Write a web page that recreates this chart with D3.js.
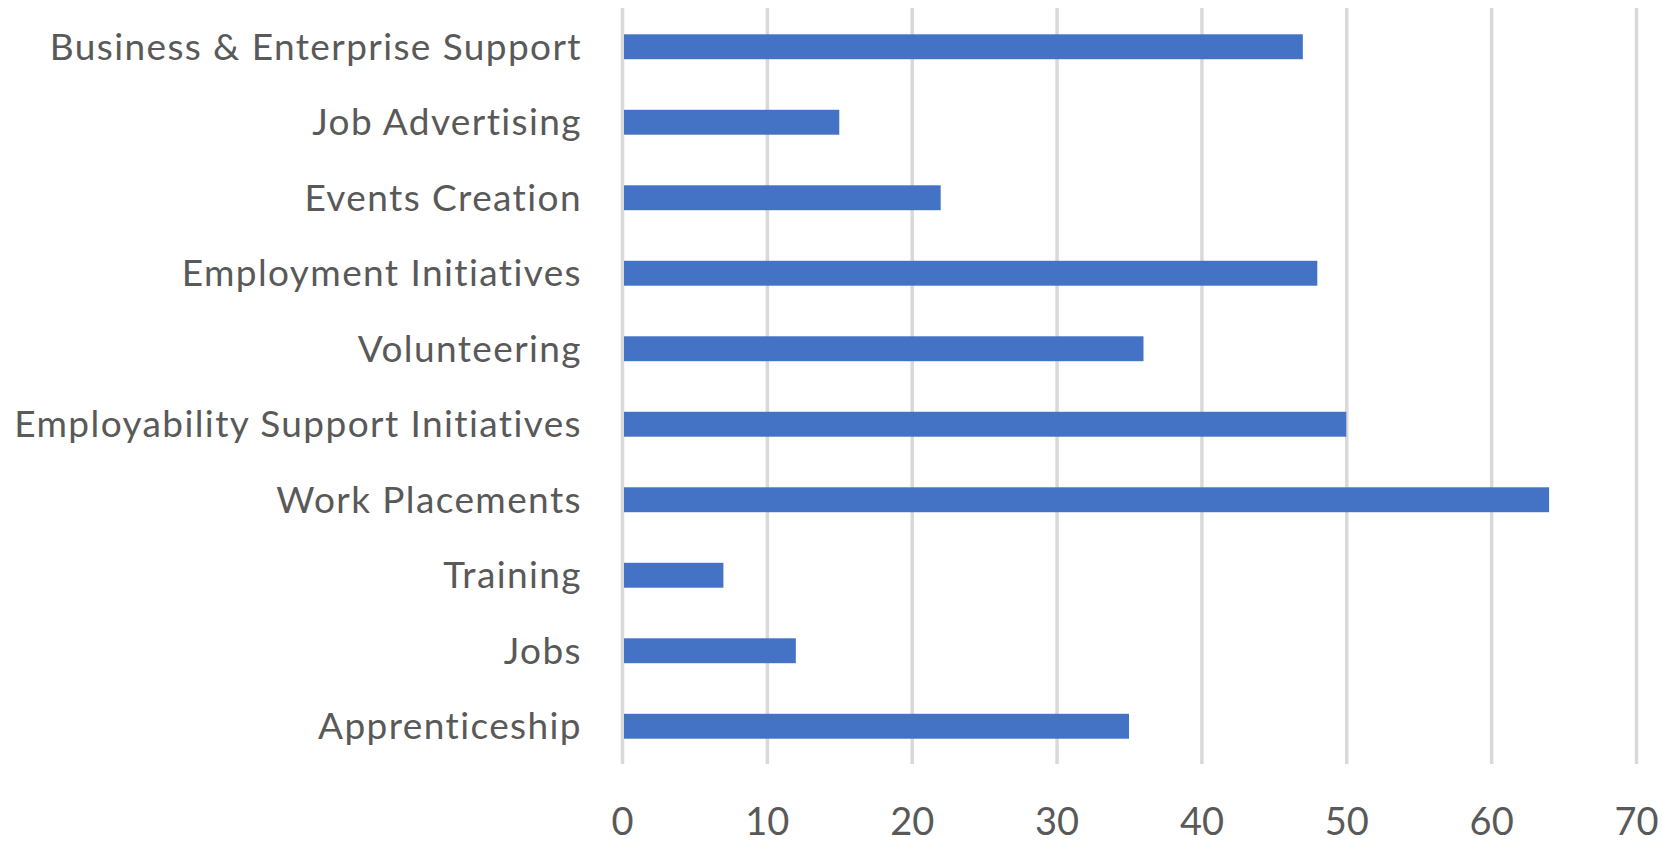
<!DOCTYPE html>
<html>
<head>
<meta charset="utf-8">
<script src="https://cdn.jsdelivr.net/npm/d3@7"></script>
<style>
  html, body { margin: 0; padding: 0; background: #fff; }
  svg { display: block; }
  text { font-family: Lato, "Open Sans", sans-serif; fill: #595959; }
</style>
</head>
<body>
<svg id="chart" width="1662" height="842"></svg>
<script>
const categories = [
  "Business & Enterprise Support",
  "Job Advertising",
  "Events Creation",
  "Employment Initiatives",
  "Volunteering",
  "Employability Support Initiatives",
  "Work Placements",
  "Training",
  "Jobs",
  "Apprenticeship"
];
const values = [47, 15, 22, 48, 36, 50, 64, 7, 12, 35];
const xTicks = [0, 10, 20, 30, 40, 50, 60, 70];

const svg = d3.select("#chart");
const x = d3.scaleLinear().domain([0, 70]).range([622, 1636]);
const y = d3.scaleBand().domain(categories).range([9, 764]).paddingInner(0.67).paddingOuter(0.335);

// gridlines
svg.append("g")
  .attr("transform", "translate(0,764)")
  .call(d3.axisBottom(x).tickValues(xTicks).tickSize(-(764 - 8)).tickFormat(""))
  .call(g => g.select(".domain").remove())
  .call(g => g.selectAll("line").attr("stroke", "#d9d9d9").attr("stroke-width", 3.5));

// bars
svg.append("g").selectAll("rect")
  .data(values)
  .join("rect")
  .attr("x", x(0) + 2)
  .attr("y", (d, i) => y(categories[i]))
  .attr("width", d => x(d) - x(0) - 2)
  .attr("height", y.bandwidth())
  .attr("fill", "#4472C4");

// x tick labels
svg.append("g")
  .attr("transform", "translate(0,808)")
  .call(d3.axisBottom(x).tickValues(xTicks).tickSize(0).tickPadding(0))
  .call(g => g.select(".domain").remove())
  .call(g => g.selectAll("text")
    .attr("dy", "0.71em")
    .attr("font-size", 38)
    .style("font-family", "Lato, 'Open Sans', sans-serif")
    .attr("fill", "#595959"));

// category labels
svg.append("g")
  .attr("transform", "translate(582,0)")
  .call(d3.axisLeft(y).tickSize(0).tickPadding(0))
  .call(g => g.select(".domain").remove())
  .call(g => g.selectAll("text")
    .attr("font-size", 37)
    .attr("dy", "0.35em")
    .style("letter-spacing", "1.4px")
    .style("font-family", "Lato, 'Open Sans', sans-serif")
    .attr("fill", "#595959"));
</script>
</body>
</html>
